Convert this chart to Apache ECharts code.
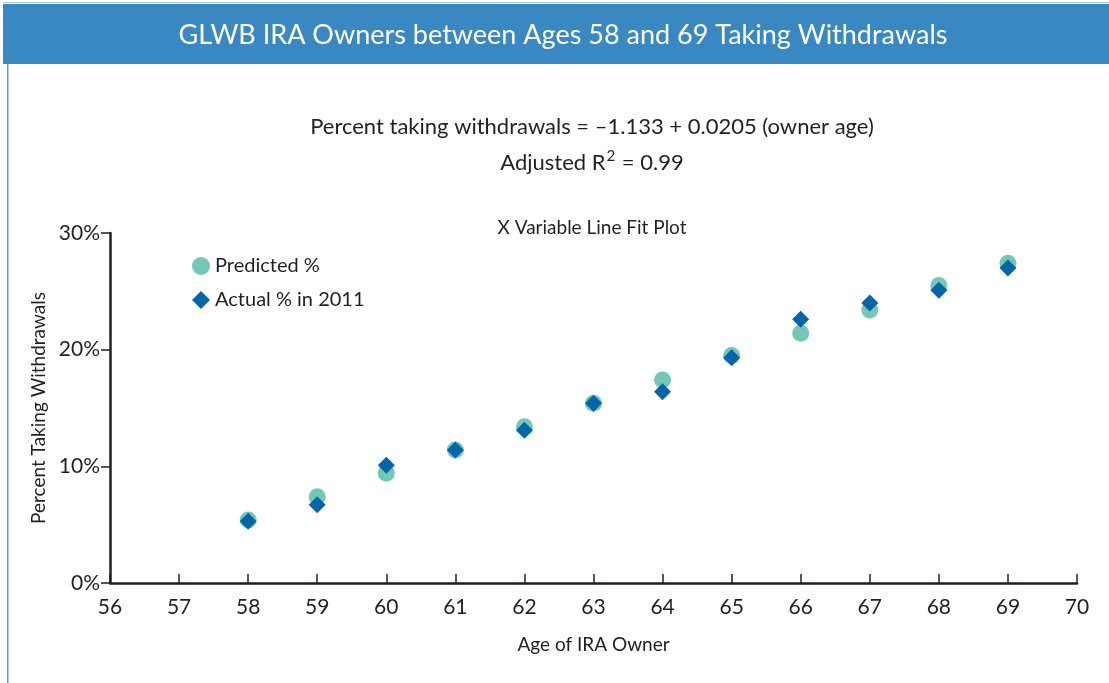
<!DOCTYPE html>
<html>
<head>
<meta charset="utf-8">
<script src="https://cdn.jsdelivr.net/npm/echarts@6/dist/echarts.min.js"></script>
<style>
  html, body { margin: 0; padding: 0; background: #fff; }
  #chart { width: 1109px; height: 683px; }
</style>
</head>
<body>
<div id="chart"></div>
<script>
// owner ages on the x axis
var ages = [58, 59, 60, 61, 62, 63, 64, 65, 66, 67, 68, 69];
// percent taking withdrawals (fractions)
var predicted = [0.054, 0.074, 0.094, 0.114, 0.134, 0.154, 0.174, 0.195, 0.214, 0.234, 0.255, 0.274];
var actual = [0.053, 0.067, 0.101, 0.114, 0.131, 0.154, 0.164, 0.193, 0.226, 0.240, 0.251, 0.270];

var font = "Lato";
var ink = "#231f20";

var predictedData = [];
var actualData = [];
ages.forEach(function (age, i) {
  predictedData.push([age, predicted[i]]);
  actualData.push([age, actual[i]]);
});

var option = {
  backgroundColor: "#fff",
  animation: false,
  textStyle: { fontFamily: font, color: ink },
  graphic: [
    { type: "rect", left: 3, top: 4, shape: { width: 1106, height: 60 }, style: { fill: "#3a88c1" } },
    { type: "rect", left: 3, top: 2, shape: { width: 1106, height: 1 }, style: { fill: "#a9cbe6" } },
    { type: "rect", left: 7, top: 64, shape: { width: 1.5, height: 619 }, style: { fill: "#5d9fd3" } }
  ],
  title: [
    {
      text: "GLWB IRA Owners between Ages 58 and 69 Taking Withdrawals",
      left: 558, top: 17, textAlign: "center",
      textStyle: { color: "#fff", fontSize: 27, fontWeight: "normal", fontFamily: font }
    },
    {
      text: "Percent taking withdrawals = \u20131.133 + 0.0205 (owner age)",
      left: 587, top: 111, textAlign: "center",
      textStyle: { color: ink, fontSize: 22, fontWeight: "normal", fontFamily: font }
    },
    {
      text: "Adjusted R{sup|2} = 0.99",
      left: 587, top: 144, textAlign: "center",
      textStyle: {
        color: ink, fontSize: 22, fontWeight: "normal", fontFamily: font,
        rich: { sup: { fontSize: 15, color: ink, fontFamily: font, padding: [0, 1, 12, 1] } }
      }
    },
    {
      text: "X Variable Line Fit Plot",
      left: 587, top: 213, textAlign: "center",
      textStyle: { color: ink, fontSize: 19, fontWeight: "normal", fontFamily: font }
    }
  ],
  legend: {
    orient: "vertical",
    left: 187, top: 251,
    itemGap: 14,
    itemWidth: 18, itemHeight: 18,
    textStyle: { fontSize: 20, color: ink, fontFamily: font, padding: [0, 0, 0, 0] },
    data: [
      { name: "Predicted %", icon: "circle" },
      { name: "Actual % in 2011", icon: "diamond" }
    ]
  },
  grid: { left: 110, right: 32, top: 233, bottom: 100 },
  xAxis: {
    type: "value",
    min: 56, max: 70, interval: 1,
    name: "Age of IRA Owner",
    nameLocation: "middle",
    nameGap: 52,
    nameTextStyle: { fontSize: 19, color: ink, fontFamily: font },
    splitLine: { show: false },
    axisLine: { lineStyle: { color: ink, width: 2.5 } },
    axisTick: { inside: true, length: 9, lineStyle: { color: ink, width: 1.5 } },
    axisLabel: { fontSize: 21, color: ink, margin: 14, fontFamily: font }
  },
  yAxis: {
    type: "value",
    min: 0, max: 0.3, interval: 0.1,
    name: "Percent Taking Withdrawals",
    nameLocation: "middle",
    nameGap: 56,
    nameTextStyle: { fontSize: 19, color: ink, fontFamily: font },
    splitLine: { show: false },
    axisLine: { show: true, lineStyle: { color: ink, width: 2.5 } },
    axisTick: { show: true, length: 9, lineStyle: { color: ink, width: 1.5 } },
    axisLabel: {
      fontSize: 21, color: ink, margin: 10, fontFamily: font,
      formatter: function (v) { return Math.round(v * 100) + "%"; }
    }
  },
  series: [
    {
      name: "Predicted %",
      type: "scatter",
      symbol: "circle",
      symbolSize: 17,
      itemStyle: { color: "#74c6b7", opacity: 1 },
      data: predictedData
    },
    {
      name: "Actual % in 2011",
      type: "scatter",
      symbol: "diamond",
      symbolSize: 17,
      itemStyle: { color: "#0565a8", opacity: 1 },
      data: actualData
    }
  ]
};

var myChart = echarts.init(document.getElementById("chart"));
option && myChart.setOption(option);
</script>
</body>
</html>
